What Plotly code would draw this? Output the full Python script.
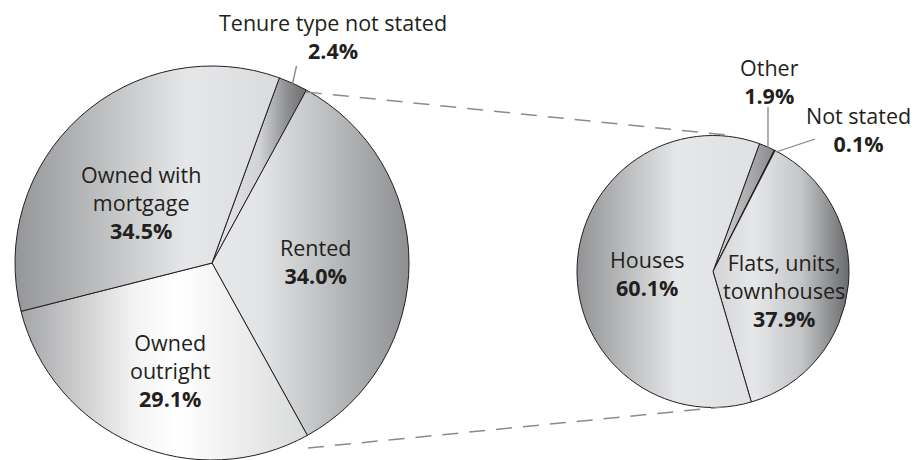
import json
import plotly.graph_objects as go

# ---------------- data ----------------
tenure_labels = ["Tenure type not stated", "Rented", "Owned outright", "Owned with mortgage"]
tenure_display = ["Tenure type not stated", "Rented", "Owned<br>outright", "Owned with<br>mortgage"]
tenure_values = [2.4, 34.0, 29.1, 34.5]

dwelling_labels = ["Other", "Not stated", "Flats, units, townhouses", "Houses"]
dwelling_display = ["Other", "Not stated", "Flats, units,<br>townhouses", "Houses"]
dwelling_values = [1.9, 0.1, 37.9, 60.1]

# ---------------- styles ----------------
W, H = 914, 460
FONT = "Open Sans"
FS = 21.5
TXT = "#231f20"

tenure_fill = ["#9c9d9f", "#c4c5c7", "#eeeeee", "#cdcecf"]
dwelling_fill = ["#a8a9ab", "#231f20", "#c3c4c6", "#cbcccd"]

tenure_grad = [
    [(0, "#e6e7e8"), (0.5, "#d2d3d5"), (0.8, "#8d8e90"), (1, "#6d6e70")],
    [(0, "#e6e7e8"), (0.25, "#e3e4e5"), (1, "#8e8f91")],
    [(0, "#a4a5a7"), (0.4, "#f4f4f4"), (0.55, "#ffffff"), (1, "#d9dadb")],
    [(0, "#959698"), (0.65, "#e6e7e8"), (1, "#dadbdc")],
]
dwelling_grad = [
    [(0, "#d8d9da"), (1, "#8a8b8d")],
    [(0, "#231f20"), (1, "#231f20")],
    [(0, "#d3d4d6"), (0.3, "#e6e7e8"), (0.65, "#c4c5c7"), (1, "#6a6b6d")],
    [(0, "#929395"), (0.55, "#e6e7e8"), (1, "#dfe0e1")],
]

# pie geometry in pixels (center x, center y, radius)
LEFT = (212, 263, 197)
RIGHT = (713, 271.5, 136)


def px(x):
    return x / W


def py(y):
    return 1 - y / H


def dom(c):
    cx, cy, r = c
    return dict(x=[max(0, px(cx - r)), min(1, px(cx + r))],
                y=[max(0, py(cy + r)), min(1, py(cy - r))])


fig = go.Figure()
fig.add_trace(go.Pie(
    labels=tenure_labels, values=tenure_values, sort=False,
    direction="clockwise", rotation=20, textinfo="none", hoverinfo="skip",
    marker=dict(colors=tenure_fill, line=dict(color=TXT, width=1)),
    domain=dom(LEFT), showlegend=False,
))
fig.add_trace(go.Pie(
    labels=dwelling_labels, values=dwelling_values, sort=False,
    direction="clockwise", rotation=20, textinfo="none", hoverinfo="skip",
    marker=dict(colors=dwelling_fill, line=dict(color=TXT, width=1)),
    domain=dom(RIGHT), showlegend=False,
))

# label positions (pixel centres of each text block)
tenure_pos = [(333, 36.5), (315, 261.5), (170, 370), (141, 202)]
dwelling_pos = [(769, 81.5), (858, 130), (784, 290), (647, 273.5)]

annotations = []
for disp, val, (x, y) in list(zip(tenure_display, tenure_values, tenure_pos)) + \
        list(zip(dwelling_display, dwelling_values, dwelling_pos)):
    annotations.append(dict(
        x=px(x), y=py(y), xref="paper", yref="paper", xanchor="center", yanchor="middle",
        text=f"{disp}<br><b>{val:.1f}%</b>", showarrow=False,
        font=dict(family=FONT, size=FS, color=TXT), align="center",
    ))

shapes = []
for (x0, y0, x1, y1) in [(306, 92, 727, 135), (308, 448, 723, 407)]:
    shapes.append(dict(type="line", xref="paper", yref="paper",
                       x0=px(x0), y0=py(y0), x1=px(x1), y1=py(y1),
                       line=dict(color="#8a8b8d", width=1.5, dash="16px,11px")))
for (x0, y0, x1, y1) in [(296.5, 66, 292, 86), (768, 107, 768, 148), (815, 139, 776, 152)]:
    shapes.append(dict(type="line", xref="paper", yref="paper",
                       x0=px(x0), y0=py(y0), x1=px(x1), y1=py(y1),
                       line=dict(color="#808285", width=1.3)))

fig.update_layout(
    width=W, height=H, margin=dict(l=0, r=0, t=0, b=0),
    paper_bgcolor="white", plot_bgcolor="white",
    annotations=annotations, shapes=shapes,
)

grads = json.dumps([tenure_grad, dwelling_grad])
post = """
document.body.style.margin = '0';
document.body.style.overflow = 'hidden';
var gd = document.getElementById('{plot_id}');
var G = %s;
var NS = 'http://www.w3.org/2000/svg';
var svg = gd.querySelector('svg.main-svg');
var defs = document.createElementNS(NS, 'defs');
svg.insertBefore(defs, svg.firstChild);
var traces = gd.querySelectorAll('g.pielayer g.trace');
traces.forEach(function(t, ti) {
  t.querySelectorAll('g.slice path.surface').forEach(function(p, si) {
    var stops = G[ti][si];
    if (!stops) return;
    var id = 'pg_' + ti + '_' + si;
    var lg = document.createElementNS(NS, 'linearGradient');
    lg.setAttribute('id', id);
    lg.setAttribute('x1', '0'); lg.setAttribute('y1', '0');
    lg.setAttribute('x2', '1'); lg.setAttribute('y2', '0');
    stops.forEach(function(s) {
      var st = document.createElementNS(NS, 'stop');
      st.setAttribute('offset', s[0]);
      st.setAttribute('stop-color', s[1]);
      lg.appendChild(st);
    });
    defs.appendChild(lg);
    p.style.fill = 'url(#' + id + ')';
  });
});
""" % grads

fig.write_html("out.html", post_script=post, config={"displayModeBar": False})
